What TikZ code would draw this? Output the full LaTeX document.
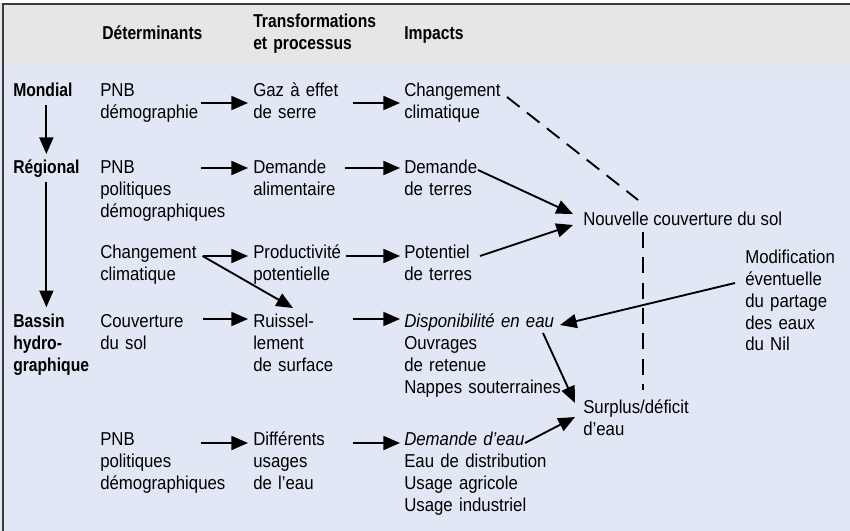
\documentclass[tikz,border=0pt]{standalone}
\usepackage{fontspec}
\setmainfont{Liberation Sans}[FakeStretch=0.9,BoldFeatures={FakeStretch=0.84}]
\usetikzlibrary{arrows.meta}
\definecolor{headgray}{HTML}{E6E6E6}
\definecolor{bodyblue}{HTML}{E1E7F4}
\definecolor{framegray}{HTML}{3C3C3C}
\hyphenpenalty=10000
\exhyphenpenalty=10000
\begin{document}
\begin{tikzpicture}[x=0.75pt,y=-0.75pt,
  lbl/.style={inner sep=0pt,anchor=base west,align=left,font=\fontsize{14}{16.5}\selectfont},
  cola/.style={lbl,text width=75pt},
  colb/.style={lbl,text width=74.25pt},
  colc/.style={lbl,text width=130pt},
  hd/.style={lbl,font=\fontsize{14}{16.5}\selectfont\bfseries},
  hdw/.style={hd,text width=90pt},
  arr/.style={-{Triangle[length=12.5pt,width=10.5pt]},line width=1.4pt},
  dsh/.style={line width=1.4pt,dash pattern=on 12pt off 7pt}]
\useasboundingbox (0,0) rectangle (850,531);
% fond
\fill[bodyblue] (0,0) rectangle (850,531);
\fill[headgray] (0,0) rectangle (850,65);
\fill[white] (0,0) rectangle (850,3);
\draw[framegray,line width=1.8pt] (3,531) -- (3,4) -- (850,4);
% en-tetes
\node[hd] (hDet) at (102,40) {Déterminants};
\node[hdw] (hTrf) at (253,28) {Transformations\\et processus};
\node[hd] (hImp) at (404,40) {Impacts};
% niveaux
\node[hd] (mond) at (13,97) {Mondial};
\node[hd] (regi) at (13,174) {Régional};
\node[hdw] (bass) at (13,327) {Bassin\\hydro-\\graphique};
\draw[arr,shorten <=6pt,shorten >=4.5pt] (regi.north |- mond.south) -- (regi.north);
\draw[arr,shorten <=3pt,shorten >=4.5pt] (regi.south) -- (regi.south |- bass.north);
% mondial
\node[cola] (pnbM) at (100,97) {PNB\\démographie};
\node[colb] (gaz) at (253,97) {Gaz à effet\\de serre};
\node[colc] (ccM) at (404,97) {Changement\\climatique};
\draw[arr] ([shift={(0,6)}]pnbM.base east) -- ([shift={(-5,6)}]gaz.base west);
\draw[arr] ([shift={(0,6)}]gaz.base east) -- ([shift={(-4,6)}]ccM.base west);
% regional
\node[cola] (pnbR) at (100,174) {PNB\\politiques\\démographiques};
\node[colb] (demA) at (253,174) {Demande\\alimentaire};
\node[colc] (demT) at (404,174) {Demande\\de terres};
\draw[arr] ([shift={(0,-6)}]pnbR.base east) -- ([shift={(-5,-6)}]demA.base west);
\draw[arr] ([shift={(-8,-6)}]demA.base east) -- ([shift={(-4,-6)}]demT.base west);
\node[cola] (ccR) at (100,258) {Changement\\climatique};
\node[colb] (prod) at (253,258) {Productivité\\potentielle};
\node[colc] (potT) at (404,258) {Potentiel\\de terres};
\draw[arr] ([shift={(2,-2)}]ccR.base east) -- ([shift={(-5,-2)}]prod.base west);
\draw[arr] ([shift={(-7,-2)}]prod.base east) -- ([shift={(-4,-2)}]potT.base west);
% bassin
\node[cola] (couv) at (100,327) {Couverture\\du sol};
\node[colb] (ruis) at (253,327) {Ruissel-\\lement\\de surface};
\node[colc] (dispo) at (404,327) {\textit{Disponibilité en eau}\\Ouvrages\\de retenue\\Nappes souterraines};
\draw[arr] ([shift={(2,-8)}]couv.base east) -- ([shift={(-5,-8)}]ruis.base west);
\draw[arr] ([shift={(0,-8)}]ruis.base east) -- ([shift={(-4,-8)}]dispo.base west);
\draw[arr] ([shift={(2,-2)}]ccR.base east) -- ([shift={(40,-19)}]ruis.base west);
\node[cola] (pnbB) at (100,445) {PNB\\politiques\\démographiques};
\node[colb] (usag) at (253,445) {Différents\\usages\\de l’eau};
\node[colc] (demE) at (404,445) {\textit{Demande d’eau}\\Eau de distribution\\Usage agricole\\Usage industriel};
\draw[arr] ([shift={(0,-2)}]pnbB.base east) -- ([shift={(-5,-2)}]usag.base west);
\draw[arr] ([shift={(0,-2)}]usag.base east) -- ([shift={(-4,-2)}]demE.base west);
% impacts combines
\node[lbl] (nouv) at (583,225) {Nouvelle couverture du sol};
\node[colc] (surp) at (583,413) {Surplus/déficit\\d’eau};
\node[lbl,text width=80pt] (modif) at (745,263) {Modification\\éventuelle\\du partage\\des eaux\\du Nil};
\draw[arr] ([shift={(74,-4)}]demT.base west) -- ([shift={(-10,-11)}]nouv.base west);
\draw[arr] ([shift={(76,-2)}]potT.base west) -- ([shift={(-10,0)}]nouv.base west);
\draw[arr] ([shift={(-10,20)}]modif.base west) -- ([shift={(156,-2)}]dispo.base west);
\draw[arr] ([shift={(139,6)}]dispo.base west) -- ([shift={(-8,-10)}]surp.base west);
\draw[arr] ([shift={(121,-2)}]demE.base west) -- ([shift={(-8,4)}]surp.base west);
\draw[dsh] ([shift={(103,0)}]ccM.base west) -- ([shift={(55,-25)}]nouv.base west);
\draw[dsh] ([shift={(60,7)}]nouv.base west) -- ([shift={(60,-23)}]surp.base west);
\end{tikzpicture}
\end{document}
